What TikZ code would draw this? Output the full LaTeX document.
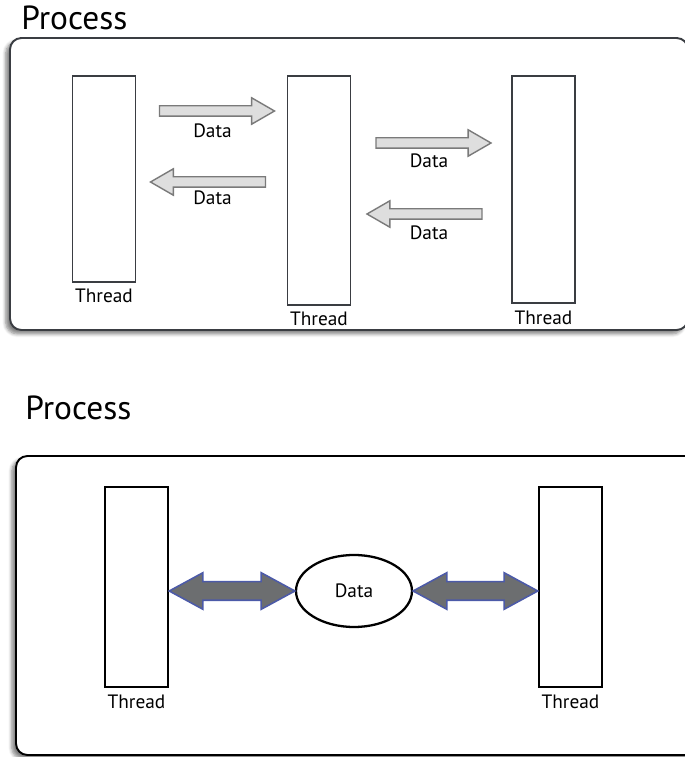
\documentclass[tikz,border=0pt]{standalone}
\usepackage{fontspec}
\setmainfont{PT Sans}
\usetikzlibrary{arrows.meta, positioning, shapes.geometric, shapes.arrows, shadows.blur, calc}
\definecolor{procLine}{RGB}{58,61,66}
\definecolor{flowFill}{RGB}{222,222,222}
\definecolor{flowLine}{RGB}{122,122,122}
\definecolor{shareFill}{RGB}{108,110,112}
\definecolor{shareLine}{RGB}{76,90,168}
\tikzset{
    procbox/.style={
        rectangle,
        draw=procLine,
        line width=1.1pt,
        rounded corners=6.5pt,
        fill=white,
        inner sep=0pt,
        blur shadow={shadow xshift=-2.4pt, shadow yshift=-2.2pt, shadow blur steps=6, shadow opacity=50}
    },
    proctitle/.style={anchor=base west, inner sep=0pt, font=\fontsize{19}{22}\selectfont},
    threadbox/.style={
        rectangle,
        draw=procLine,
        line width=1.1pt,
        fill=white,
        inner sep=0pt,
        minimum width=1.26cm
    },
    threadlabel/.style={inner sep=1pt, font=\fontsize{11}{13}\selectfont},
    flowarrow/.style={
        single arrow,
        draw=flowLine,
        fill=flowFill,
        line width=0.8pt,
        inner xsep=0pt,
        inner ysep=0.09cm,
        single arrow head extend=0.16cm,
        single arrow tip angle=60,
        single arrow head indent=0pt,
        minimum height=2.3cm
    },
    sharearrow/.style={
        double arrow,
        draw=shareLine,
        fill=shareFill,
        line width=0.9pt,
        inner xsep=0pt,
        inner ysep=0.17cm,
        double arrow head extend=0.18cm,
        double arrow tip angle=57,
        double arrow head indent=0pt
    },
    databox/.style={ellipse, draw=black, line width=1.3pt, fill=white, inner sep=0pt,
        minimum width=2.32cm, minimum height=1.44cm, font=\fontsize{11}{13}\selectfont}
}

\begin{document}
\begin{tikzpicture}
    \useasboundingbox (0,0) rectangle (13.7,15.14);
    % threads that pass data to one another
    \node[procbox, minimum width=13.56cm, minimum height=5.84cm] (proc1) at (6.98,11.46) {};
    \node[proctitle] (proc1title) at (0.42,14.54) {Process};
    \node[threadbox, minimum height=4.12cm] (t1) at (2.08,11.56) {};
    \node[threadbox, minimum height=4.58cm] (t2) at (6.38,11.33) {};
    \node[threadbox, minimum height=4.54cm] (t3) at (10.87,11.35) {};
    \node[threadlabel, below=0.08cm of t1] (t1lab) {Thread};
    \node[threadlabel, below=0.08cm of t2] (t2lab) {Thread};
    \node[threadlabel, below=0.1cm of t3] (t3lab) {Thread};
    \node[flowarrow] (a1) at (4.25,12.92) {};
    \node[flowarrow, shape border rotate=180] (a2) at (4.25,11.5) {};
    \node[flowarrow] (a3) at (8.58,12.28) {};
    \node[flowarrow, shape border rotate=180] (a4) at (8.58,10.86) {};
    \node[threadlabel, below=0.1cm of a1] (a1lab) {Data};
    \node[threadlabel, below=0.02cm of a2] (a2lab) {Data};
    \node[threadlabel, below=0.06cm of a3] (a3lab) {Data};
    \node[threadlabel, below=0.08cm of a4] (a4lab) {Data};

    % threads that share one piece of data
    \node[procbox, draw=black, minimum width=13.68cm, minimum height=5.98cm] (proc2) at (7.16,3.03) {};
    \node[proctitle] (proc2title) at (0.5,6.74) {Process};
    \node[threadbox, draw=black, line width=1.4pt, minimum height=4.0cm] (b1) at (2.73,3.4) {};
    \node[threadbox, draw=black, line width=1.4pt, minimum height=4.0cm] (b2) at (11.41,3.4) {};
    \node[threadlabel, below=0.1cm of b1] (b1lab) {Thread};
    \node[threadlabel, below=0.1cm of b2] (b2lab) {Thread};
    \node[databox] (dat) at (7.08,3.32) {Data};
    \path let \p1=(b1.east |- dat.west), \p2=(dat.west), \n1={veclen(\x2-\x1,\y2-\y1)} in
        node[sharearrow, minimum height=\n1] (link1) at ($(\p1)!0.5!(\p2)$) {};
    \path let \p1=(dat.east), \p2=(b2.west |- dat.east), \n1={veclen(\x2-\x1,\y2-\y1)} in
        node[sharearrow, minimum height=\n1] (link2) at ($(\p1)!0.5!(\p2)$) {};
\end{tikzpicture}
\end{document}
